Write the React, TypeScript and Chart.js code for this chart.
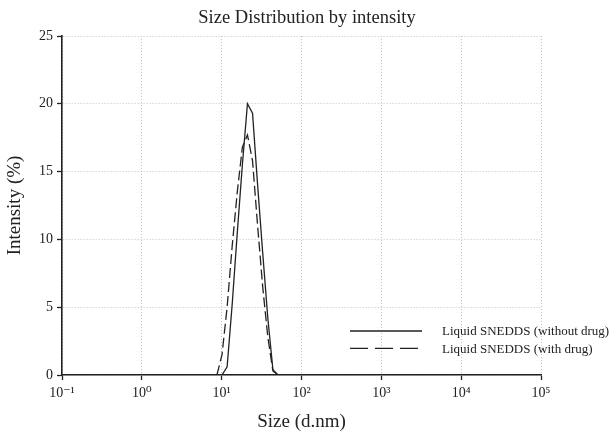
import React, { useEffect, useRef } from "react";
import { Chart, registerables } from "chart.js";

Chart.register(...registerables);

const TITLE = "Size Distribution by intensity";
const X_TITLE = "Size (d.nm)";
const Y_TITLE = "Intensity (%)";

const SERIES_LABELS = ["Liquid SNEDDS (without drug)", "Liquid SNEDDS (with drug)"];

const SIZES_WITHOUT = [10.1, 11.7, 13.54, 15.69, 18.17, 21.04, 24.36, 28.21, 32.67, 37.84, 43.82, 50.75];
const INTENSITY_WITHOUT = [0, 0.6, 5.2, 10.5, 15.5, 20.0, 19.3, 14.0, 9.0, 4.2, 0.4, 0];

const SIZES_WITH = [8.721, 10.1, 11.7, 13.54, 15.69, 18.17, 21.04, 24.36, 28.21, 32.67, 37.84, 43.82, 50.75];
const INTENSITY_WITH = [0, 1.5, 5.0, 9.5, 13.5, 16.8, 17.7, 15.8, 11.0, 6.5, 2.8, 0.3, 0];

const X_TICKS = [0.1, 1, 10, 100, 1000, 10000, 100000];
const X_TICK_LABELS = ["10\u207B\u00B9", "10\u2070", "10\u00B9", "10\u00B2", "10\u00B3", "10\u2074", "10\u2075"];
const Y_TICKS = [0, 5, 10, 15, 20, 25];

const FONT = '"Liberation Serif", "DejaVu Serif", serif';
const INK = "#222";

const textPlugin = {
  id: "customText",
  afterDraw(chart: any) {
    const { ctx, chartArea, width } = chart;
    ctx.save();
    ctx.fillStyle = INK;
    ctx.textAlign = "center";
    ctx.textBaseline = "middle";
    ctx.font = `18.5px ${FONT}`;
    ctx.fillText(TITLE, width / 2, 18);

    // legend
    const datasets = chart.data.datasets;
    const lx = chartArea.left + 288;
    const ly = chartArea.bottom - 44;
    ctx.font = `13px ${FONT}`;
    ctx.textAlign = "left";
    datasets.forEach((ds: any, i: number) => {
      const y = ly + i * 17.3;
      ctx.beginPath();
      ctx.strokeStyle = ds.borderColor;
      ctx.lineWidth = 1.3;
      ctx.setLineDash(i === 0 ? [] : [18, 7]);
      ctx.moveTo(lx, y);
      ctx.lineTo(lx + 72, y);
      ctx.stroke();
      ctx.setLineDash([]);
      ctx.fillText(ds.label, lx + 92, y + 1);
    });
    ctx.restore();
  },
};

export default function App() {
  const ref = useRef<HTMLCanvasElement>(null);

  useEffect(() => {
    document.body.style.margin = "0";
    const canvas = ref.current;
    if (!canvas) return;
    const chart = new Chart(canvas, {
      type: "line",
      data: {
        datasets: [
          {
            label: SERIES_LABELS[0],
            data: SIZES_WITHOUT.map((x, i) => ({ x, y: INTENSITY_WITHOUT[i] })),
            borderColor: INK,
            borderWidth: 1.3,
            pointRadius: 0,
            tension: 0,
            fill: false,
          },
          {
            label: SERIES_LABELS[1],
            data: SIZES_WITH.map((x, i) => ({ x, y: INTENSITY_WITH[i] })),
            borderColor: INK,
            borderWidth: 1.3,
            borderDash: [10, 4],
            pointRadius: 0,
            tension: 0,
            fill: false,
          },
        ],
      },
      options: {
        responsive: false,
        animation: false,
        layout: { padding: { top: 36, right: 73, bottom: 0, left: 0 } },
        plugins: {
          legend: { display: false },
          title: { display: false },
          tooltip: { enabled: false },
        },
        scales: {
          x: {
            type: "logarithmic",
            min: 0.1,
            max: 100000,
            afterBuildTicks: (scale: any) => {
              scale.ticks = X_TICKS.map((v) => ({ value: v }));
            },
            afterFit: (scale: any) => {
              scale.height = 60;
            },
            ticks: {
              autoSkip: false,
              maxRotation: 0,
              padding: 5,
              color: INK,
              font: { family: FONT, size: 14 },
              callback: (value: any) => {
                const idx = X_TICKS.findIndex((t) => Math.abs(Math.log10(t) - Math.log10(Number(value))) < 1e-6);
                return idx >= 0 ? X_TICK_LABELS[idx] : "";
              },
            },
            grid: {
              color: "#c4c4c4",
              lineWidth: 1,
              tickLength: 5,
              tickColor: INK,
              tickWidth: 1.3,
            },
            border: { display: true, color: INK, width: 1.6, dash: [1, 2] },
            title: {
              display: true,
              text: X_TITLE,
              color: INK,
              font: { family: FONT, size: 19 },
              padding: { top: 4, bottom: 2 },
            },
          },
          y: {
            type: "linear",
            min: 0,
            max: 25,
            afterBuildTicks: (scale: any) => {
              scale.ticks = Y_TICKS.map((v) => ({ value: v }));
            },
            afterFit: (scale: any) => {
              scale.width = 62;
            },
            ticks: {
              padding: 4,
              color: INK,
              font: { family: FONT, size: 14 },
            },
            grid: {
              color: "#c4c4c4",
              lineWidth: 1,
              tickLength: 5,
              tickColor: INK,
              tickWidth: 1.3,
            },
            border: { display: true, color: INK, width: 1.6, dash: [1, 2] },
            title: {
              display: true,
              text: Y_TITLE,
              color: INK,
              font: { family: FONT, size: 19 },
              padding: { top: 4, bottom: 4 },
            },
          },
        },
      },
      plugins: [textPlugin],
    } as any);
    return () => chart.destroy();
  }, []);

  return (
    <div style={{ width: 614, height: 435 }}>
      <canvas ref={ref} width={614} height={435} />
    </div>
  );
}
